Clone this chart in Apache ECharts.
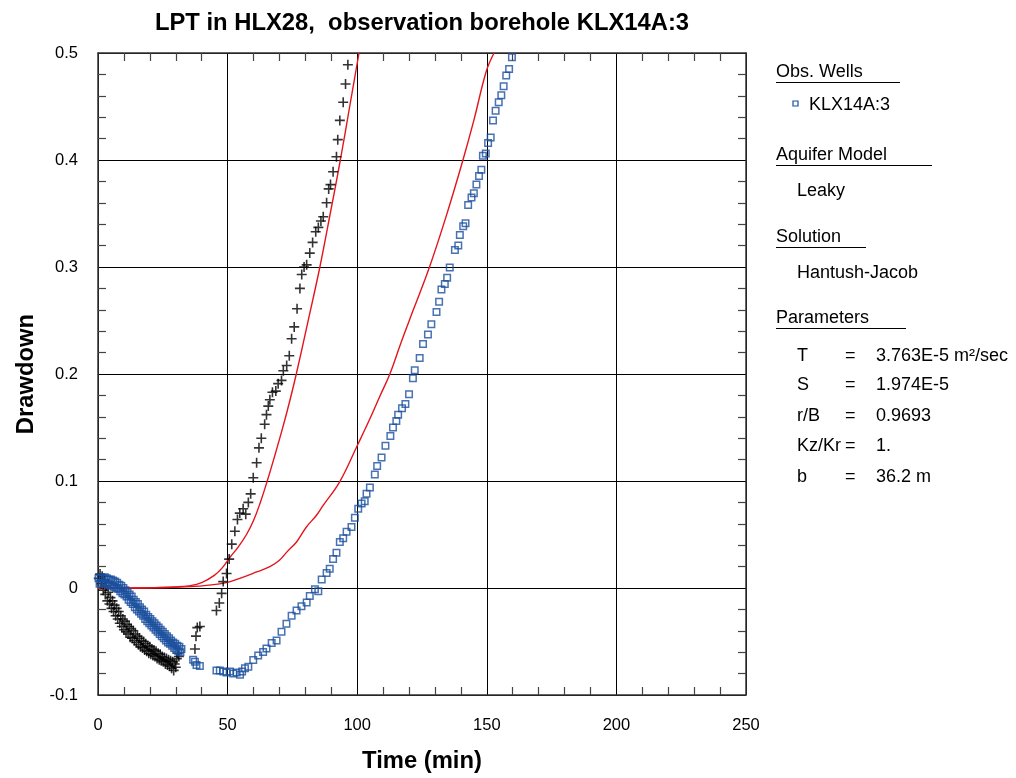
<!DOCTYPE html>
<html>
<head>
<meta charset="utf-8">
<script src="https://cdn.jsdelivr.net/npm/echarts@6/dist/echarts.min.js"></script>
<style>html,body{margin:0;padding:0;background:#fff;overflow:hidden;}#c{width:1016px;height:778px;}</style>
</head>
<body>
<div id="c"></div>
<script>
// ---- data ----
var xTicks = [0, 50, 100, 150, 200, 250];
var yTicks = [-0.1, 0, 0.1, 0.2, 0.3, 0.4, 0.5];

// Unlabelled black crosses
var crossEarly = [
 [0.3,0.009],[0.8,0.013],[1.2,0.004],[1.6,0.011],[2.0,-0.002],[2.4,0.007],[2.8,-0.006],[3.2,0.002],[3.6,-0.012],[4.0,-0.004],
 [4.4,-0.015],[4.8,-0.009],[5.2,-0.019],[5.6,-0.012],[6.0,-0.022],[6.4,-0.016],[6.8,-0.026],[7.2,-0.019],[7.6,-0.029],[8.0,-0.022],
 [8.4,-0.033],[8.8,-0.026],[9.2,-0.036],[9.6,-0.029],[10.0,-0.039],[10.4,-0.031],[10.8,-0.041],[11.2,-0.034],[11.6,-0.043],[12.0,-0.036],
 [12.4,-0.046],[12.8,-0.038],[13.2,-0.047],[13.6,-0.040],[14.0,-0.049],[14.4,-0.043],[14.8,-0.051],[15.2,-0.045],[15.6,-0.053],[16.0,-0.047],
 [16.4,-0.055],[16.8,-0.049],[17.2,-0.056],[17.6,-0.050],[18.0,-0.058],[18.4,-0.052],[18.8,-0.059],[19.2,-0.054],[19.6,-0.061],[20.0,-0.055],
 [20.4,-0.062],[20.8,-0.057],[21.2,-0.063],[21.6,-0.058],[22.0,-0.064],[22.4,-0.059],[22.8,-0.066],[23.2,-0.061],[23.6,-0.067],[24.0,-0.062],
 [24.4,-0.068],[24.8,-0.064],[25.2,-0.069],[25.6,-0.065],[26.0,-0.071],[26.4,-0.066],[26.8,-0.072],[27.2,-0.067],[27.6,-0.073],[28.0,-0.068],
 [28.4,-0.075],[28.8,-0.069],[29.2,-0.077],[29.6,-0.071],[30.0,-0.074],[30.4,-0.066],[30.8,-0.061],[31.2,-0.064]
];
var crossLate = [
 [37.4,-0.057],[37.8,-0.045],[38.3,-0.037],[39.3,-0.036],[45.7,-0.021],[46.8,-0.014],[47.7,-0.005],[48.3,0.006],[49.6,0.0136],[50.6,0.027],
 [51.6,0.041],[52.8,0.053],[53.8,0.064],[54.7,0.070],[56.0,0.074],[57.0,0.069],[58.0,0.080],[58.9,0.088],[59.9,0.103],[61.2,0.117],
 [62.1,0.131],[63.0,0.140],[64.3,0.153],[65.0,0.162],[65.7,0.170],[66.3,0.176],[67.3,0.183],[68.6,0.184],[69.5,0.191],[70.8,0.194],
 [71.5,0.203],[72.8,0.208],[73.8,0.217],[74.7,0.233],[75.7,0.244],[76.8,0.261],[77.9,0.280],[78.6,0.293],[79.5,0.300],[80.5,0.302],
 [81.7,0.313],[82.8,0.323],[84.0,0.333],[85.0,0.337],[86.0,0.343],[86.9,0.347],[88.2,0.360],[89.0,0.373],[89.7,0.377],[90.7,0.389],
 [92.0,0.403],[92.5,0.419],[93.3,0.437],[94.6,0.454],[95.5,0.471],[96.4,0.489]
];

// Obs. well KLX14A:3 (blue squares)
var wellEarly = [
 [0.2,0.009],[0.6,0.004],[1.0,0.010],[1.4,0.005],[1.8,0.009],[2.2,0.004],[2.6,0.010],[3.0,0.005],[3.4,0.009],[3.8,0.003],
 [4.2,0.008],[4.6,0.003],[5.0,0.008],[5.4,0.002],[5.8,0.007],[6.2,0.001],[6.6,0.006],[7.0,0.000],[7.4,0.005],[7.8,-0.001],
 [8.2,0.003],[8.6,-0.003],[9.0,0.002],[9.4,-0.005],[9.8,0.000],[10.2,-0.006],[10.6,-0.002],[11.0,-0.008],[11.4,-0.004],[11.8,-0.011],
 [12.2,-0.006],[12.6,-0.013],[13.0,-0.008],[13.4,-0.015],[13.8,-0.011],[14.2,-0.018],[14.6,-0.013],[15.0,-0.020],[15.4,-0.015],[15.8,-0.022],
 [16.2,-0.018],[16.6,-0.024],[17.0,-0.020],[17.4,-0.026],[17.8,-0.022],[18.2,-0.029],[18.6,-0.025],[19.0,-0.031],[19.4,-0.027],[19.8,-0.033],
 [20.2,-0.029],[20.6,-0.035],[21.0,-0.031],[21.4,-0.037],[21.8,-0.033],[22.2,-0.039],[22.6,-0.035],[23.0,-0.041],[23.4,-0.037],[23.8,-0.043],
 [24.2,-0.039],[24.6,-0.045],[25.0,-0.041],[25.4,-0.047],[25.8,-0.043],[26.2,-0.049],[26.6,-0.045],[27.0,-0.051],[27.4,-0.047],[27.8,-0.052],
 [28.2,-0.049],[28.6,-0.054],[29.0,-0.051],[29.4,-0.056],[29.8,-0.052],[30.2,-0.058],[30.6,-0.054],[31.0,-0.059],[31.4,-0.055],[31.8,-0.060],[32.2,-0.057]
];
var wellLate = [
 [36.7,-0.067],[37.4,-0.069],[38.0,-0.072],[39.3,-0.073],[45.7,-0.077],[47.0,-0.077],[48.3,-0.078],[49.6,-0.079],[50.9,-0.078],[52.2,-0.080],
 [53.5,-0.079],[54.8,-0.081],[55.6,-0.078],[56.7,-0.075],[58.0,-0.0735],[59.9,-0.0674],[61.8,-0.063],[63.7,-0.0597],[65.0,-0.0566],[67.0,-0.0514],
 [68.9,-0.049],[70.8,-0.041],[72.7,-0.0335],[74.7,-0.026],[76.6,-0.021],[78.5,-0.017],[80.5,-0.0135],[81.7,-0.0074],[83.7,-0.0012],[85.0,-0.003],
 [86.3,0.008],[88.2,0.014],[89.4,0.018],[90.7,0.027],[92.0,0.033],[93.3,0.043],[94.6,0.0465],[95.9,0.0526],[97.8,0.057],[99.1,0.0656],
 [100.4,0.074],[101.7,0.079],[102.9,0.081],[103.6,0.088],[104.9,0.094],[106.8,0.106],[107.7,0.114],[109.4,0.122],[110.9,0.133],[112.8,0.142],
 [113.8,0.150],[115.1,0.156],[115.8,0.162],[117.3,0.168],[118.6,0.172],[120.0,0.181],[121.5,0.196],[122.2,0.2035],[124.1,0.215],[125.4,0.228],
 [127.3,0.237],[128.6,0.2465],[130.6,0.258],[131.6,0.2675],[132.5,0.279],[133.8,0.284],[134.7,0.290],[135.7,0.2995],[137.7,0.316],[139.0,0.320],
 [139.6,0.330],[140.9,0.338],[141.8,0.341],[142.8,0.358],[144.1,0.365],[145.0,0.369],[146.0,0.377],[147.0,0.385],[147.9,0.391],[148.5,0.404],
 [149.6,0.406],[150.5,0.416],[151.5,0.421],[152.4,0.437],[153.4,0.446],[154.6,0.454],[155.6,0.4605],[156.5,0.469],[157.5,0.479],[158.6,0.485],[159.7,0.496]
];

// Fitted type curves (red)
var curveA = [
 [0,0],[10,0],[20,0.0003],[30,0.001],[35,0.002],[40,0.005],[45,0.012],[48,0.019],[51,0.029],[54,0.038],
 [57.3,0.050],[60,0.063],[62.5,0.079],[65.3,0.100],[68,0.122],[71.4,0.151],[74,0.175],[76.5,0.200],[81,0.249],[85.6,0.300],
 [89.6,0.350],[93.5,0.400],[97.1,0.450],[100.7,0.500]
];
var curveB = [
 [0,0],[20,0.0003],[30,0.0008],[35.5,0.0013],[41.9,0.0025],[49.6,0.005],[54.7,0.009],[61.2,0.015],[66.3,0.020],[70,0.026],
 [73,0.034],[76.6,0.043],[80.4,0.057],[84.3,0.068],[86.8,0.077],[93.3,0.0995],[100,0.133],[104.5,0.156],[108.7,0.179],[112.6,0.200],
 [117,0.230],[121.5,0.259],[127.9,0.300],[134.4,0.348],[140.8,0.400],[145,0.437],[149.8,0.483],[152.8,0.500]
];

// Side panel texts
var panelHeads = ['Obs. Wells', 'Aquifer Model', 'Solution', 'Parameters'];
var panelItems = ['KLX14A:3', 'Leaky', 'Hantush-Jacob'];
var paramNames = ['T', 'S', 'r/B', 'Kz/Kr', 'b'];
var paramValues = ['3.763E-5 m\u00b2/sec', '1.974E-5', '0.9693', '1.', '36.2 m'];

// ---- chart ----
var FONT = '"Liberation Sans", Arial, sans-serif';
var chart = echarts.init(document.getElementById('c'), null, {renderer: 'canvas'});

var crossPath = 'path://M4.2,0H5.8V4.2H10V5.8H5.8V10H4.2V5.8H0V4.2H4.2Z';
var BLUE = '#1a4f9e';
var RED = '#e3141c';
var PF = '18px ' + FONT;

function fmtY(v) {
  var r = Math.round(v * 10) / 10;
  if (r === 0) return '0';
  return r.toFixed(1);
}

var heads = [
  {t: panelHeads[0], y: 72, w: 124},
  {t: panelHeads[1], y: 155, w: 156},
  {t: panelHeads[2], y: 237, w: 90},
  {t: panelHeads[3], y: 318, w: 130}
];
var graphics = [];
graphics.push({type: 'text', style: {text: 'LPT in HLX28,  observation borehole KLX14A:3', x: 422, y: 23,
  textAlign: 'center', textVerticalAlign: 'middle', font: 'bold 23.8px ' + FONT, fill: '#000'}});
heads.forEach(function (h) {
  graphics.push({type: 'text', style: {text: h.t, x: 776, y: h.y, textVerticalAlign: 'middle', font: PF, fill: '#000'}});
  graphics.push({type: 'line', shape: {x1: 776, y1: h.y + 10.5, x2: 776 + h.w, y2: h.y + 10.5}, style: {stroke: '#000', lineWidth: 1.2}});
});
graphics.push({type: 'rect', shape: {x: 793, y: 101, width: 5, height: 5}, style: {fill: '#fff', stroke: BLUE, lineWidth: 1.2}});
graphics.push({type: 'text', style: {text: panelItems[0], x: 809, y: 105, textVerticalAlign: 'middle', font: PF, fill: '#000'}});
graphics.push({type: 'text', style: {text: panelItems[1], x: 797, y: 191, textVerticalAlign: 'middle', font: PF, fill: '#000'}});
graphics.push({type: 'text', style: {text: panelItems[2], x: 797, y: 273, textVerticalAlign: 'middle', font: PF, fill: '#000'}});
var pY = [356, 385, 416, 446, 477];
paramNames.forEach(function (n, i) {
  graphics.push({type: 'text', style: {text: n, x: 797, y: pY[i], textVerticalAlign: 'middle', font: PF, fill: '#000'}});
  graphics.push({type: 'text', style: {text: '=', x: 845, y: pY[i], textVerticalAlign: 'middle', font: PF, fill: '#000'}});
  graphics.push({type: 'text', style: {text: paramValues[i], x: 876, y: pY[i], textVerticalAlign: 'middle', font: PF, fill: '#000'}});
});

var minorT = {show: true, splitNumber: 5, length: -8, lineStyle: {color: '#444', width: 1.2}};
var frameLine = {show: true, onZero: false, lineStyle: {color: '#333', width: 1.5}};

var option = {
  backgroundColor: '#fff',
  animation: false,
  grid: {left: 98, right: 270, top: 53, bottom: 76, containLabel: false},
  xAxis: [
    {
      type: 'value', position: 'bottom', min: xTicks[0], max: xTicks[xTicks.length - 1], interval: 50,
      name: 'Time (min)', nameLocation: 'middle', nameGap: 54,
      nameTextStyle: {fontFamily: FONT, fontWeight: 'bold', fontSize: 23.8, color: '#000'},
      axisLine: frameLine, axisTick: {show: false}, minorTick: minorT,
      axisLabel: {fontFamily: FONT, fontSize: 16.5, color: '#000', margin: 22},
      splitLine: {show: true, lineStyle: {color: '#000', width: 1}}
    },
    {
      type: 'value', position: 'top', min: 0, max: 250, interval: 50,
      axisLine: frameLine, axisTick: {show: false}, minorTick: minorT,
      axisLabel: {show: false}, splitLine: {show: false}
    }
  ],
  yAxis: [
    {
      type: 'value', position: 'left', min: yTicks[0], max: yTicks[yTicks.length - 1], interval: 0.1,
      name: 'Drawdown', nameLocation: 'middle', nameGap: 58, nameRotate: 90,
      nameTextStyle: {fontFamily: FONT, fontWeight: 'bold', fontSize: 23.8, color: '#000'},
      axisLine: frameLine, axisTick: {show: false}, minorTick: minorT,
      axisLabel: {fontFamily: FONT, fontSize: 16.5, color: '#000', margin: 20, formatter: fmtY},
      splitLine: {show: true, lineStyle: {color: '#000', width: 1}}
    },
    {
      type: 'value', position: 'right', min: -0.1, max: 0.5, interval: 0.1,
      axisLine: frameLine, axisTick: {show: false}, minorTick: minorT,
      axisLabel: {show: false}, splitLine: {show: false}
    }
  ],
  series: [
    {type: 'line', data: curveA, showSymbol: false, symbol: 'none', smooth: 0.4, clip: true,
     lineStyle: {color: RED, width: 1.4}, z: 3},
    {type: 'line', data: curveB, showSymbol: false, symbol: 'none', smooth: 0.4, clip: true,
     lineStyle: {color: RED, width: 1.4}, z: 3},
    {type: 'scatter', data: crossEarly.concat(crossLate), symbol: crossPath, symbolSize: 10, clip: true,
     itemStyle: {color: '#000'}, z: 4},
    {type: 'scatter', data: wellEarly.concat(wellLate), symbol: 'rect', symbolSize: 6.5, clip: true,
     itemStyle: {color: 'rgba(255,255,255,0)', borderColor: BLUE, borderWidth: 1.5}, z: 5}
  ],
  graphic: graphics
};
chart.setOption(option);
</script>
</body>
</html>
